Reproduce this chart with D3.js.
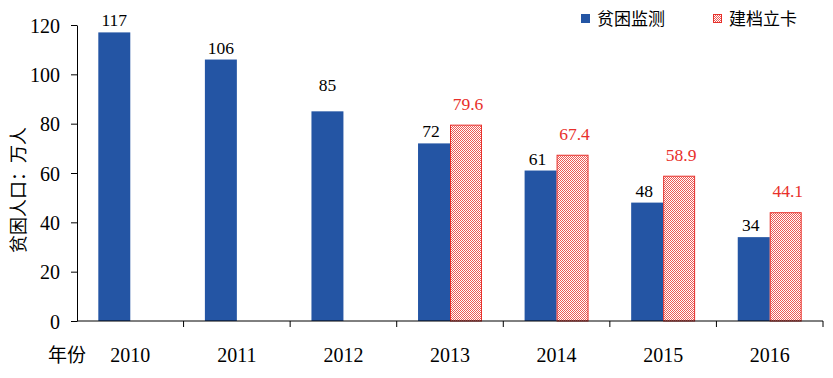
<!doctype html>
<html lang="zh">
<head>
<meta charset="UTF-8" />
<script src="https://d3js.org/d3.v7.min.js"></script>
<style>
  body { margin: 0; background: #fff; }
</style>
</head>
<body>
<div id="chart"></div>
<script>
// data
const years = ["2010", "2011", "2012", "2013", "2014", "2015", "2016"]
const monitor = [117, 106, 85, 72, 61, 48, 34]
const filing = [null, null, null, 79.6, 67.4, 58.9, 44.1]
const seriesNames = ["贫困监测", "建档立卡"]
const yTicks = [0, 20, 40, 60, 80, 100, 120]

const W = 833, H = 378
const margin = { top: 25, right: 10, bottom: 57, left: 77 }
const width = 823 - margin.left
const height = 321 - margin.top

const blue = "#2455a4"
const red = "#e8302b"
const serif = "'Liberation Serif', 'Times New Roman', serif"
const cjk = "'Noto Sans CJK SC', sans-serif"

const svg = d3.select("#chart").append("svg")
  .attr("width", W).attr("height", H)

// checker pattern for 建档立卡
const defs = svg.append("defs")
const pat = defs.append("pattern")
  .attr("id", "checker")
  .attr("patternUnits", "userSpaceOnUse")
  .attr("width", 2).attr("height", 2)
pat.append("rect").attr("width", 2).attr("height", 2).attr("fill", "#fff")
pat.append("rect").attr("width", 1).attr("height", 1).attr("fill", "#ec5a55")
pat.append("rect").attr("x", 1).attr("y", 1).attr("width", 1).attr("height", 1).attr("fill", "#ec5a55")

const g = svg.append("g").attr("transform", `translate(${margin.left},${margin.top})`)

const x = d3.scaleBand().domain(years).range([0, width]).paddingInner(0.4).paddingOuter(0.2)
const x1 = d3.scaleBand().domain([0, 1]).range([0, x.bandwidth()])
const y = d3.scaleLinear().domain([0, 120]).range([height, 0])

// bars
const rows = years.map((yr, i) => ({ yr, a: monitor[i], b: filing[i] }))

g.selectAll(".bar-a").data(rows).enter().append("rect")
  .attr("x", d => x(d.yr) + x1(0))
  .attr("y", d => y(d.a))
  .attr("width", x1.bandwidth())
  .attr("height", d => height - y(d.a))
  .attr("fill", blue)

g.selectAll(".bar-b").data(rows.filter(d => d.b != null)).enter().append("rect")
  .attr("x", d => x(d.yr) + x1(1) + 0.5)
  .attr("y", d => y(d.b) + 0.5)
  .attr("width", x1.bandwidth() - 1)
  .attr("height", d => height - y(d.b) - 0.5)
  .attr("fill", "url(#checker)")
  .attr("stroke", red)
  .attr("stroke-width", 1)

// value labels
g.selectAll(".lab-a").data(rows).enter().append("text")
  .attr("x", d => x(d.yr) + x1(0) + x1.bandwidth() / 2 - (d.b != null ? 3 : 0))
  .attr("y", d => y(d.a) - 6 - (d.yr === "2012" ? 14 : 0))
  .attr("text-anchor", "middle")
  .attr("font-family", serif).attr("font-size", 17.5)
  .attr("fill", "#000")
  .text(d => d.a)

g.selectAll(".lab-b").data(rows.filter(d => d.b != null)).enter().append("text")
  .attr("x", d => x(d.yr) + x1(1) + x1.bandwidth() / 2 + 2)
  .attr("y", d => y(d.b) - 15)
  .attr("text-anchor", "middle")
  .attr("font-family", serif).attr("font-size", 17.5)
  .attr("fill", red)
  .text(d => d.b.toFixed(1))

// y axis
const yAxis = g.append("g")
  .call(d3.axisLeft(y).tickValues(yTicks).tickSize(6).tickSizeOuter(0))
yAxis.select(".domain").attr("stroke", "#000")
yAxis.selectAll("line").attr("stroke", "#000")
yAxis.selectAll("text")
  .attr("font-family", serif).attr("font-size", 20).attr("fill", "#000")
  .attr("x", -17).attr("dy", "0.35em")

// x axis
const xAxisG = g.append("g").attr("transform", `translate(0,${height})`)
xAxisG.append("line").attr("x1", 0).attr("x2", width).attr("stroke", "#000")
xAxisG.selectAll(".tick").data(years).enter().append("line")
  .attr("x1", d => x(d) + x.bandwidth() / 2 + x.step() / 2)
  .attr("x2", d => x(d) + x.bandwidth() / 2 + x.step() / 2)
  .attr("y1", 0).attr("y2", 6).attr("stroke", "#000")
xAxisG.selectAll(".yr").data(years).enter().append("text")
  .attr("x", d => x(d) + x.bandwidth() / 2)
  .attr("y", 41)
  .attr("text-anchor", "middle")
  .attr("font-family", serif).attr("font-size", 20).attr("fill", "#000")
  .text(d => d)

svg.append("text")
  .attr("x", 48).attr("y", 362)
  .attr("font-family", cjk).attr("font-size", 19).attr("fill", "#000")
  .text("年份")

svg.append("text")
  .attr("transform", "translate(25,190) rotate(-90)")
  .attr("text-anchor", "middle")
  .attr("font-family", cjk).attr("font-size", 18).attr("fill", "#000")
  .text("贫困人口：万人")

// legend
const legend = svg.append("g")
legend.append("rect").attr("x", 581).attr("y", 14).attr("width", 9).attr("height", 9).attr("fill", blue)
legend.append("text").attr("x", 597).attr("y", 25)
  .attr("font-family", cjk).attr("font-size", 17).attr("fill", "#000").text(seriesNames[0])
legend.append("rect").attr("x", 713.5).attr("y", 14.5).attr("width", 8).attr("height", 8)
  .attr("fill", "url(#checker)").attr("stroke", red)
legend.append("text").attr("x", 729).attr("y", 25)
  .attr("font-family", cjk).attr("font-size", 17).attr("fill", "#000").text(seriesNames[1])
</script>
</body>
</html>
